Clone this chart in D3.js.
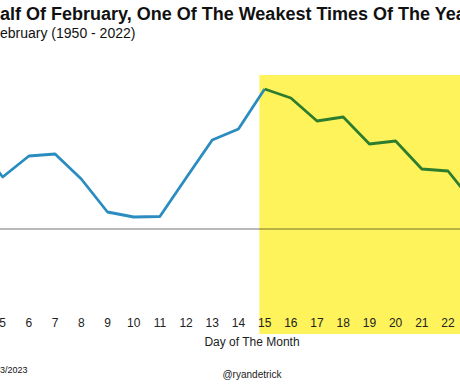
<!DOCTYPE html>
<html>
<head>
<meta charset="utf-8">
<script src="https://cdn.jsdelivr.net/npm/d3@7"></script>
<style>
  body { margin: 0; background: #fff; }
  svg { display: block; font-family: "Liberation Sans", Arial, sans-serif; }
</style>
</head>
<body>
<div id="chart"></div>
<script>
// average path of the S&P 500 through February, %
const days    = [4, 5, 6, 7, 8, 9, 10, 11, 12, 13, 14, 15, 16, 17, 18, 19, 20, 21, 22, 23];
const avgPath = [0.425, 0.26, 0.365, 0.375, 0.25, 0.085, 0.06, 0.0625, 0.255, 0.445, 0.50,
                 0.70, 0.655, 0.54, 0.56, 0.425, 0.44, 0.30, 0.29, 0.125];
const tickDays = [5, 6, 7, 8, 9, 10, 11, 12, 13, 14, 15, 16, 17, 18, 19, 20, 21, 22];
const splitDay = 15;       // second half starts here
const shadeFrom = 14.8;    // yellow box start

const titleText = "Second Half Of February, One Of The Weakest Times Of The Year";
const titleHidden = "Second H";
const subText = "S&P 500 Average Return During February (1950 - 2022)";
const subHidden = "S&P 500 Average Return During F";
const sourceText = "Source: Carson Investment Research, FactSet 02/03/2023";

function init() {
    let width = 460, height = 384;
    let svg = d3.select("#chart").append("svg")
        .attr("width", width)
        .attr("height", height);

    let x = d3.scaleLinear().domain([5, 22]).range([2.7, 448]);
    let y = d3.scaleLinear().domain([0, 0.7]).range([229, 89]);

    let data = days.map((d, i) => ({day: d, v: avgPath[i]}));

    // yellow highlight for second half of the month
    svg.append("rect")
        .attr("x", x(shadeFrom))
        .attr("y", 75)
        .attr("width", width - x(shadeFrom) + 5)
        .attr("height", 259)
        .attr("fill", "#fef35a");

    // zero line
    svg.append("line")
        .attr("x1", 0).attr("x2", width)
        .attr("y1", y(0)).attr("y2", y(0))
        .attr("stroke", "#000")
        .attr("stroke-opacity", 0.55)
        .attr("stroke-width", 1);

    let line = d3.line()
        .x(d => x(d.day))
        .y(d => y(d.v));

    svg.append("path")
        .datum(data.filter(d => d.day <= splitDay))
        .attr("d", line)
        .attr("fill", "none")
        .attr("stroke", "#2b8cbf")
        .attr("stroke-width", 2.8)
        .attr("stroke-linejoin", "round");

    svg.append("path")
        .datum(data.filter(d => d.day >= splitDay))
        .attr("d", line)
        .attr("fill", "none")
        .attr("stroke", "#2e7d2e")
        .attr("stroke-width", 2.8)
        .attr("stroke-linejoin", "round");

    // day labels
    svg.selectAll(".tick")
        .data(tickDays)
        .join("text")
        .attr("class", "tick")
        .attr("x", d => x(d))
        .attr("y", 327)
        .attr("text-anchor", "middle")
        .style("font-size", "12px")
        .attr("fill", "#222")
        .text(d => d);

    svg.append("text")
        .attr("x", 252).attr("y", 346)
        .attr("text-anchor", "middle")
        .style("font-size", "12px")
        .attr("fill", "#222")
        .text("Day of The Month");

    // title + subtitle, cut at the left like the picture
    function placeCut(txt, hidden, yPos, size, weight) {
        let t = svg.append("text")
            .attr("y", yPos)
            .style("font-size", size)
            .style("font-weight", weight)
            .attr("fill", "#111")
            .text(hidden);
        let w = t.node().getComputedTextLength();
        t.text(txt).attr("x", -w);
    }
    placeCut(titleText, titleHidden, 19.5, "18px", "bold");
    placeCut(subText, subHidden, 38, "14px", "normal");
    placeCut(sourceText, "Source: Carson Investment Research, FactSet 02/0", 373, "9px", "normal");

    svg.append("text")
        .attr("x", 252).attr("y", 378)
        .attr("text-anchor", "middle")
        .style("font-size", "10px")
        .attr("fill", "#222")
        .text("@ryandetrick");
}
window.onload = init;
</script>
</body>
</html>
